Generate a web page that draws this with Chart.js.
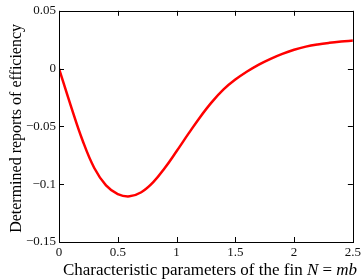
<!DOCTYPE html>
<html><head><meta charset="utf-8">
<script src="https://cdn.jsdelivr.net/npm/chart.js@4/dist/chart.umd.min.js"></script>
<style>html,body{margin:0;padding:0;background:#fff}#w{width:364px;height:280px}</style>
</head><body><div id="w"><canvas id="c"></canvas></div>
<script>
const nValues = [0,0.1,0.2,0.3,0.4,0.5,0.6,0.7,0.8,0.9,1.0,1.1,1.2,1.3,1.4,1.5,1.6,1.7,1.8,1.9,2.0,2.1,2.2,2.3,2.4,2.5];
const efficiency = [0,-0.032,-0.062,-0.086,-0.101,-0.1085,-0.1105,-0.107,-0.0985,-0.086,-0.0715,-0.0565,-0.042,-0.029,-0.018,-0.0095,-0.0025,0.0035,0.0085,0.0128,0.0163,0.0190,0.0209,0.0223,0.0234,0.0243];
const xTicks = [0,0.5,1,1.5,2,2.5];
const yTicks = [-0.15,-0.1,-0.05,0,0.05];
const yTitle = 'Determined reports of efficiency';
const xTitleParts = [['Characteristic parameters of the fin ',''],['N','italic '],[' = ',''],['mb','italic ']];
const SERIF = '"Liberation Serif","DejaVu Serif",serif';

function fmt(v){
  let s = (Math.round(v*100)/100).toString();
  return s.replace('-', '\u2212');
}

const frame = {
  id:'frame',
  afterDraw(ch){
    const ctx = ch.ctx, a = ch.chartArea, xs = ch.scales.x, ys = ch.scales.y;
    ctx.save();
    ctx.strokeStyle = '#000'; ctx.lineWidth = 1;
    ctx.strokeRect(Math.round(a.left)+0.5, Math.round(a.top)+0.5, Math.round(a.right-a.left), Math.round(a.bottom-a.top));
    ctx.beginPath();
    const L = 5;
    xTicks.forEach(t=>{const p=Math.round(xs.getPixelForValue(t))+0.5;
      ctx.moveTo(p,a.bottom); ctx.lineTo(p,a.bottom-L);
      ctx.moveTo(p,a.top); ctx.lineTo(p,a.top+L);});
    yTicks.forEach(t=>{const p=Math.round(ys.getPixelForValue(t))+0.5;
      ctx.moveTo(a.left,p); ctx.lineTo(a.left+L,p);
      ctx.moveTo(a.right,p); ctx.lineTo(a.right-L,p);});
    ctx.stroke();
    // y title
    ctx.fillStyle = '#000';
    ctx.font = '16px '+SERIF;
    ctx.textAlign='center'; ctx.textBaseline='middle';
    ctx.translate(17,(a.top+a.bottom)/2+2);
    ctx.rotate(-Math.PI/2);
    ctx.fillText(yTitle,0,0);
    ctx.setTransform(1,0,0,1,0,0);
    // x title
    let tot = 0;
    xTitleParts.forEach(p=>{ctx.font=p[1]+'17px '+SERIF; tot+=ctx.measureText(p[0]).width;});
    let x0 = 210 - tot/2;
    ctx.textAlign='left'; ctx.textBaseline='middle';
    xTitleParts.forEach(p=>{ctx.font=p[1]+'17px '+SERIF; ctx.fillText(p[0],x0,271); x0+=ctx.measureText(p[0]).width;});
    ctx.restore();
  }
};

new Chart(document.getElementById('c'),{
  type:'line',
  data:{datasets:[{data:nValues.map((n,i)=>({x:n,y:efficiency[i]})),borderColor:'#ff0000',borderWidth:2.5,pointRadius:0,tension:0.4,fill:false}]},
  options:{
    responsive:true, maintainAspectRatio:false, animation:false,
    layout:{padding:{top:7,right:10,left:0,bottom:0}},
    plugins:{legend:{display:false},tooltip:{enabled:false}},
    scales:{
      x:{type:'linear',min:0,max:2.5,
        afterBuildTicks(s){s.ticks=xTicks.map(v=>({value:v}));},
        afterFit(s){s.height=38;},
        grid:{display:false,drawTicks:false},border:{display:false},
        ticks:{padding:3,maxRotation:0,autoSkip:false,color:'#111',font:{family:SERIF,size:13},callback:v=>fmt(v)}},
      y:{type:'linear',min:-0.15,max:0.05,
        afterBuildTicks(s){s.ticks=yTicks.map(v=>({value:v}));},
        afterFit(s){s.width=59;},
        grid:{display:false,drawTicks:false},border:{display:false},
        ticks:{padding:3,autoSkip:false,color:'#111',font:{family:SERIF,size:13},callback:v=>fmt(v)}}
    }
  },
  plugins:[frame]
});
</script></body></html>
